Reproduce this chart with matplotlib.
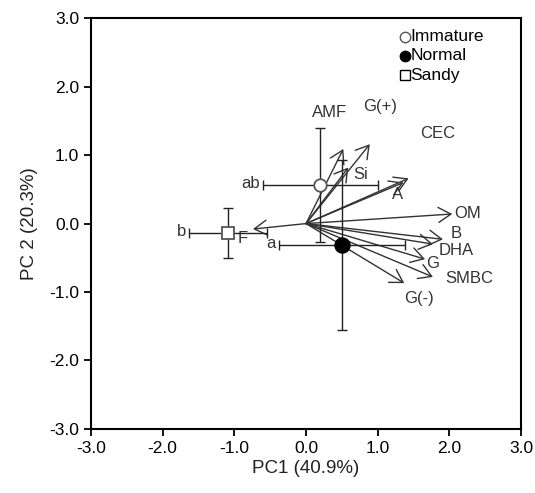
import numpy as np
import matplotlib
matplotlib.use('Agg')
import matplotlib.pyplot as plt

plt.rcParams['font.family'] = ['Liberation Sans', 'DejaVu Sans']

# variable loadings (arrow tips)
var_names = ['F', 'AMF', 'G(+)', 'Si', 'CEC', 'A', 'OM', 'B', 'DHA', 'G', 'SMBC', 'G(-)']
var_x = [-0.74, 0.52, 0.89, 0.59, 1.43, 1.36, 2.04, 1.91, 1.77, 1.66, 1.77, 1.37]
var_y = [-0.08, 1.09, 1.16, 0.82, 0.66, 0.60, 0.14, -0.23, -0.30, -0.52, -0.78, -0.87]
lab_x = [-0.89, 0.33, 1.03, 0.76, 1.83, 1.27, 2.25, 2.09, 2.10, 1.76, 2.28, 1.58]
lab_y = [-0.22, 1.63, 1.71, 0.71, 1.32, 0.42, 0.15, -0.15, -0.39, -0.58, -0.80, -1.10]

# group scores (mean +/- error)
groups = ['Immature', 'Normal', 'Sandy']
grp_x = [0.20, 0.50, -1.09]
grp_y = [0.56, -0.31, -0.14]
grp_xerr = [0.80, 0.88, 0.54]
grp_yerr = [0.83, 1.24, 0.37]
grp_letters = ['ab', 'a', 'b']

fig = plt.figure(figsize=(5.35, 4.93), dpi=100)
ax = fig.add_axes([0.170, 0.130, 0.804, 0.833])

# arrows
for n, x, y, lx, ly in zip(var_names, var_x, var_y, lab_x, lab_y):
    ax.annotate('', xy=(x, y), xytext=(0, 0),
                arrowprops=dict(arrowstyle='->,head_length=0.5,head_width=0.3',
                                color='#333333', lw=1.0,
                                shrinkA=0, shrinkB=0, mutation_scale=18))
    ax.text(lx, ly, n, fontsize=12, color='#333333', ha='center', va='center')

# error bars
for x, y, xe, ye in zip(grp_x, grp_y, grp_xerr, grp_yerr):
    ax.errorbar(x, y, xerr=xe, yerr=ye, fmt='none', ecolor='#222222',
                elinewidth=1.0, capsize=3.5, capthick=1.0, zorder=3)

styles = [dict(marker='o', mfc='white', mec='#555555', ms=9),
          dict(marker='o', mfc='black', mec='black', ms=10.5),
          dict(marker='s', mfc='white', mec='#555555', ms=8)]
for x, y, st in zip(grp_x, grp_y, styles):
    ax.plot(x, y, linestyle='none', mew=1.3, zorder=4, **st)

for x, xe, y, t in zip(grp_x, grp_xerr, grp_y, grp_letters):
    ax.text(x - xe - 0.04, y + 0.02, t, fontsize=12, color='#333333',
            ha='right', va='center')

# legend
leg_y = [2.73, 2.45, 2.17]
for g, st, ly in zip(groups, styles, leg_y):
    s = dict(st)
    s['mec'] = 'black' if s['marker'] == 's' else s['mec']
    ax.plot(1.38, ly, linestyle='none', mew=1.0, **{**s, 'ms': 7.5})
    ax.text(1.46, ly, g, fontsize=12.5, va='center', ha='left')

ax.set_xlim(-3, 3)
ax.set_ylim(-3, 3)
ticks = np.arange(-3, 3.01, 1.0)
ax.set_xticks(ticks)
ax.set_yticks(ticks)
ax.set_xticklabels(['%.1f' % t for t in ticks])
ax.set_yticklabels(['%.1f' % t for t in ticks])
ax.tick_params(direction='out', length=5, width=1.3, labelsize=12.5)
for sp in ax.spines.values():
    sp.set_linewidth(1.5)
ax.set_xlabel('PC1 (40.9%)', fontsize=13.5, color='#222222', labelpad=3)
ax.set_ylabel('PC 2 (20.3%)', fontsize=13.5, color='#222222', labelpad=8)

fig.savefig('out.png', dpi=100)
